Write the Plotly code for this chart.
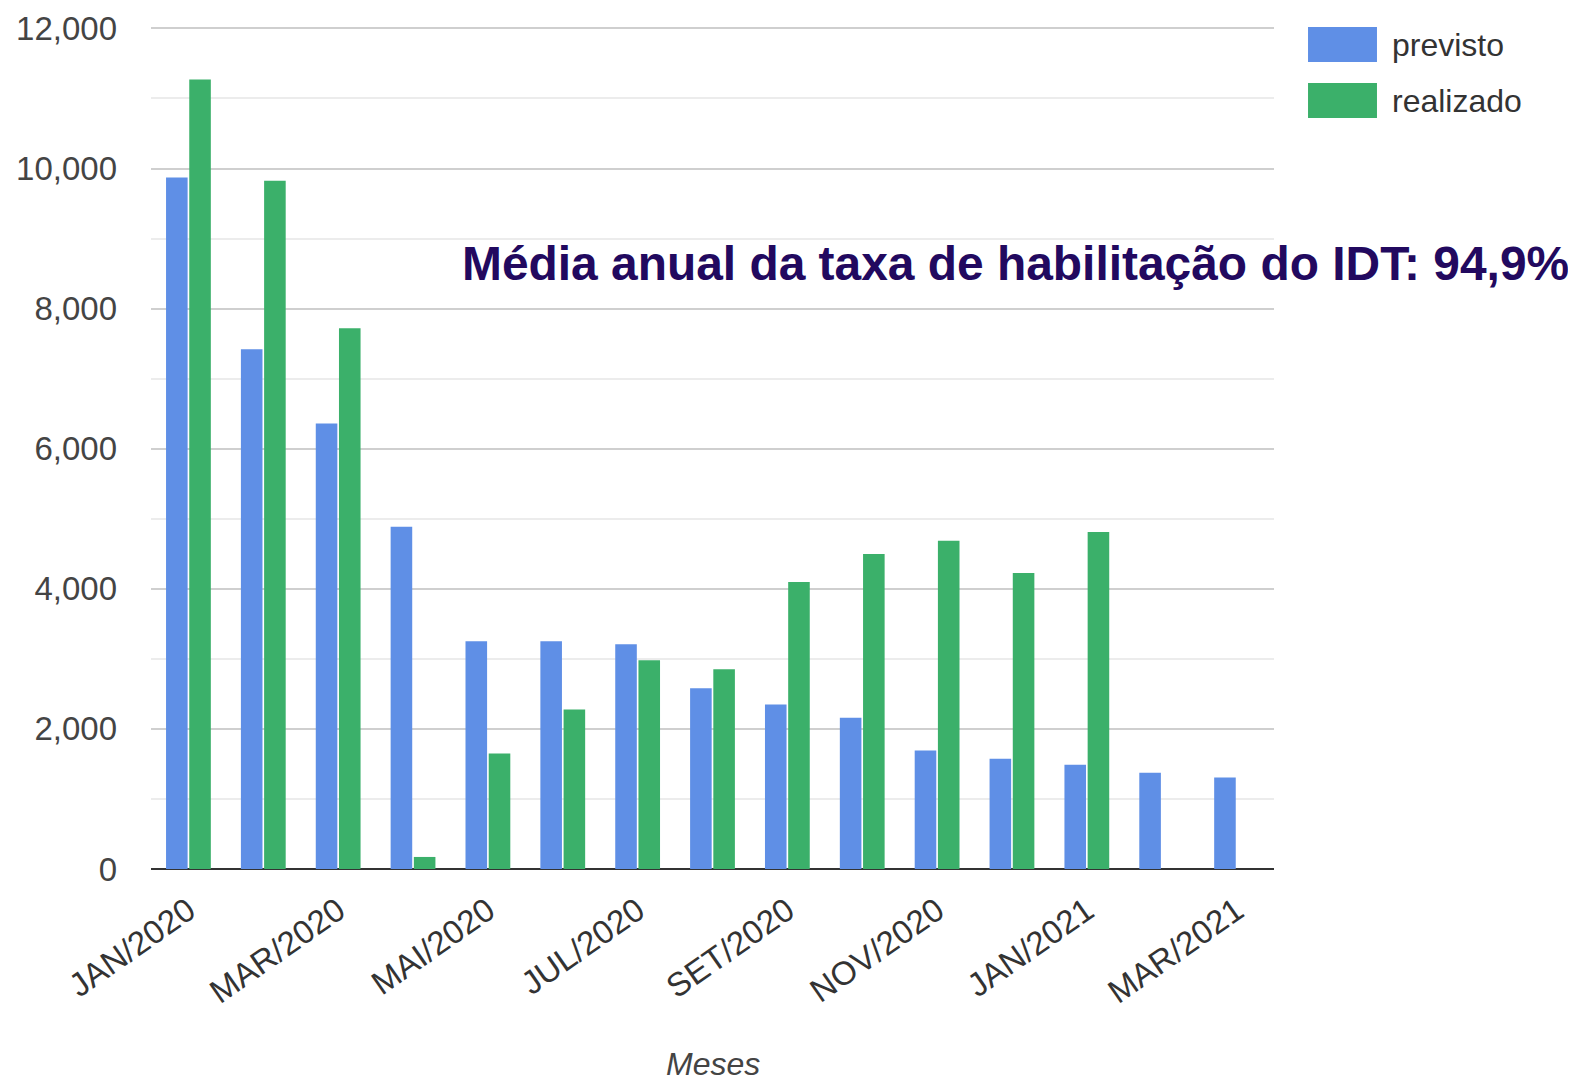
import plotly.graph_objects as go

categories = ["JAN/2020", "FEV/2020", "MAR/2020", "ABR/2020", "MAI/2020", "JUN/2020",
              "JUL/2020", "AGO/2020", "SET/2020", "OUT/2020", "NOV/2020", "DEZ/2020",
              "JAN/2021", "FEV/2021", "MAR/2021"]
previsto = [9870, 7420, 6360, 4885, 3250, 3250, 3210, 2580, 2350, 2160, 1690, 1575, 1490, 1375, 1305]
realizado = [11270, 9825, 7720, 172, 1648, 2278, 2980, 2850, 4097, 4497, 4685, 4225, 4812, None, None]
tick_labels = ["JAN/2020", "MAR/2020", "MAI/2020", "JUL/2020", "SET/2020", "NOV/2020", "JAN/2021", "MAR/2021"]
y_ticks = [0, 2000, 4000, 6000, 8000, 10000, 12000]

BLUE = "#5f8fe6"
GREEN = "#3bb06a"
FONT = "Liberation Sans, Arial, sans-serif"

fig = go.Figure()
fig.add_trace(go.Bar(x=categories, y=previsto, name="previsto", marker=dict(color=BLUE, line=dict(width=0))))
fig.add_trace(go.Bar(x=categories, y=realizado, name="realizado", marker=dict(color=GREEN, line=dict(width=0))))

# page has an 8px body margin: figure drawn at (8, 8)
fig.update_layout(
    width=1568, height=1077,
    margin=dict(l=143, r=302, t=19, b=216, autoexpand=False),
    paper_bgcolor="white", plot_bgcolor="white",
    barmode="group", bargap=0.38, bargroupgap=0.07,
    showlegend=False,
    font=dict(family=FONT, size=31, color="#444"),
)
fig.update_xaxes(
    type="category", tickmode="array", tickvals=tick_labels, ticktext=tick_labels,
    tickangle=-35, tickfont=dict(size=33, color="#333"), ticklabelstandoff=15,
    showgrid=False, showline=False, ticks="", zeroline=False, automargin=False,
)
fig.update_yaxes(
    range=[0, 12020], tickmode="array", tickvals=y_ticks, tickformat=",",
    tickfont=dict(size=33, color="#444"), ticklabelstandoff=33,
    showgrid=True, gridcolor="#cfcfcf", gridwidth=1.5,
    minor=dict(dtick=1000, showgrid=True, gridcolor="#ececec", gridwidth=1.5),
    zeroline=True, zerolinecolor="#333", zerolinewidth=2, showline=False, automargin=False,
)

# Legend (custom, large swatches)
legend_items = [("previsto", BLUE, 1.0, 0.9584, 0.9792), ("realizado", GREEN, 0.9335, 0.8919, 0.9127)]
for name, col, ytop, ybot, ymid in legend_items:
    fig.add_shape(type="rect", xref="paper", yref="paper",
                  x0=1.0303, x1=1.0917, y0=ybot, y1=ytop,
                  fillcolor=col, line=dict(width=0))
    fig.add_annotation(xref="paper", yref="paper", x=1.1033, y=ymid,
                       text=name, showarrow=False, xanchor="left", yanchor="middle",
                       font=dict(family=FONT, size=32, color="#333"))

fig.add_annotation(xref="paper", yref="paper", x=0.2752, y=0.7197,
                   text="<b>Média anual da taxa de habilitação do IDT: 94,9%</b>",
                   showarrow=False, xanchor="left", yanchor="middle",
                   font=dict(family=FONT, size=47.9, color="#22095f"))

fig.add_annotation(xref="paper", yref="paper", x=0.5004, y=-0.232,
                   text="<i>Meses</i>", showarrow=False, xanchor="center", yanchor="middle",
                   font=dict(family=FONT, size=32, color="#444"))

fig.write_html("out.html")
